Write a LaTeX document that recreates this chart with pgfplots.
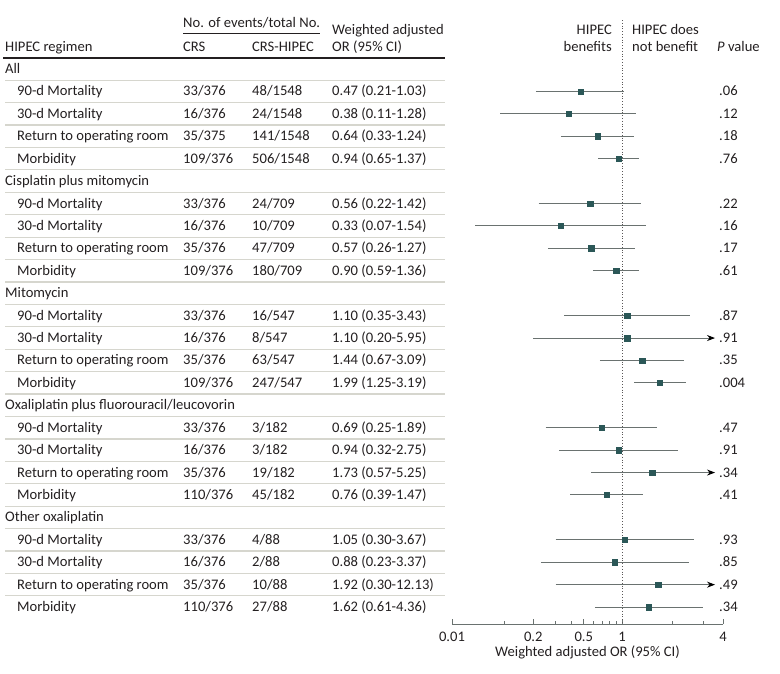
\documentclass[border=0pt]{standalone}
\usepackage{fontspec}
\setmainfont{Carlito}
\usepackage{pgfplots}
\pgfplotsset{compat=1.18}
\usetikzlibrary{arrows.meta}
\definecolor{txt}{HTML}{231F20}
\definecolor{sep}{HTML}{D6D6CE}
\definecolor{mk}{HTML}{2B5757}
\definecolor{cil}{HTML}{6A7270}
\newcommand\fs{\fontsize{14.6pt}{17pt}\selectfont}
% group header row: index, label
\newcommand\grp[2]{\node[anchor=base west] at (5,{73.5+22.42*#1}) {#2};}
% sub row: index, label, CRS, CRS-HIPEC, OR, P
\newcommand\sub[6]{%
  \node[anchor=base west] at (17,{73.5+22.42*#1}) {#2};
  \node[anchor=base west] at (183,{73.5+22.42*#1}) {#3};
  \node[anchor=base west] at (252,{73.5+22.42*#1}) {#4};
  \node[anchor=base west] at (332,{73.5+22.42*#1}) {#5};
  \node[anchor=base west] at (719,{73.5+22.42*#1}) {#6};}
\newcommand\ci[3]{\addplot[cil, line width=1pt, forget plot] coordinates {(#2,-#1) (#3,-#1)};}
\newcommand\cia[3]{\addplot[cil, line width=1pt, forget plot, -{Stealth[length=8pt,width=6pt,black]}] coordinates {(#2,-#1) (#3,-#1)};}
\begin{document}
\begin{tikzpicture}[every node/.style={inner sep=0pt, text=txt, font=\fs}]
\begin{scope}[x=1pt,y=-1pt]
\path (0,0) rectangle (780,674);
\foreach \i in {0,...,23} {\draw[sep, line width=1.2pt] (5,{69+22.42*(\i+0.5)}) -- (445,{69+22.42*(\i+0.5)});}
\draw[txt, line width=1.6pt] (3,58) -- (445,58);
\draw[txt, line width=0.9pt] (183,33) -- (320,33);
% headers
\node[anchor=base west] at (183,27.5) {No. of events/total No.};
\node[anchor=base west] at (5,51.5) {HIPEC regimen};
\node[anchor=base west] at (183,51.5) {CRS};
\node[anchor=base west] at (252,51.5) {CRS-HIPEC};
\node[anchor=base west] at (332,34.5) {Weighted adjusted};
\node[anchor=base west] at (332,51.5) {OR (95\% CI)};
\node[anchor=base east] at (612,34.5) {HIPEC};
\node[anchor=base east] at (612,51.5) {benefits};
\node[anchor=base west] at (632,34.5) {HIPEC does};
\node[anchor=base west] at (632,51.5) {not benefit};
\node[anchor=base west] at (717,51.5) {\textit{P} value};
% rows
\grp{0}{All}
\sub{1}{90-d Mortality}{33/376}{48/1548}{0.47 (0.21-1.03)}{.06}
\sub{2}{30-d Mortality}{16/376}{24/1548}{0.38 (0.11-1.28)}{.12}
\sub{3}{Return to operating room}{35/375}{141/1548}{0.64 (0.33-1.24)}{.18}
\sub{4}{Morbidity}{109/376}{506/1548}{0.94 (0.65-1.37)}{.76}
\grp{5}{Cisplatin plus mitomycin}
\sub{6}{90-d Mortality}{33/376}{24/709}{0.56 (0.22-1.42)}{.22}
\sub{7}{30-d Mortality}{16/376}{10/709}{0.33 (0.07-1.54)}{.16}
\sub{8}{Return to operating room}{35/376}{47/709}{0.57 (0.26-1.27)}{.17}
\sub{9}{Morbidity}{109/376}{180/709}{0.90 (0.59-1.36)}{.61}
\grp{10}{Mitomycin}
\sub{11}{90-d Mortality}{33/376}{16/547}{1.10 (0.35-3.43)}{.87}
\sub{12}{30-d Mortality}{16/376}{8/547}{1.10 (0.20-5.95)}{.91}
\sub{13}{Return to operating room}{35/376}{63/547}{1.44 (0.67-3.09)}{.35}
\sub{14}{Morbidity}{109/376}{247/547}{1.99 (1.25-3.19)}{.004}
\grp{15}{Oxaliplatin plus fluorouracil/leucovorin}
\sub{16}{90-d Mortality}{33/376}{3/182}{0.69 (0.25-1.89)}{.47}
\sub{17}{30-d Mortality}{16/376}{3/182}{0.94 (0.32-2.75)}{.91}
\sub{18}{Return to operating room}{35/376}{19/182}{1.73 (0.57-5.25)}{.34}
\sub{19}{Morbidity}{110/376}{45/182}{0.76 (0.39-1.47)}{.41}
\grp{20}{Other oxaliplatin}
\sub{21}{90-d Mortality}{33/376}{4/88}{1.05 (0.30-3.67)}{.93}
\sub{22}{30-d Mortality}{16/376}{2/88}{0.88 (0.23-3.37)}{.85}
\sub{23}{Return to operating room}{35/376}{10/88}{1.92 (0.30-12.13)}{.49}
\sub{24}{Morbidity}{110/376}{27/88}{1.62 (0.61-4.36)}{.34}
\end{scope}
\begin{axis}[at={(452pt,-624pt)}, anchor=south west, scale only axis,
  width=271pt, height=604pt,
  xmode=log, xmin=0.0458, xmax=6.24, ymin=-24.755, ymax=2.186,
  axis x line*=bottom, axis y line=none, clip=false,
  x axis line style={cil, line width=0.8pt, -},
  xtick={0.0458,0.2,0.5,1,6.24}, xticklabels={0.01,0.2,0.5,1,4},
  minor xtick={0.118,0.3,0.4,0.6,0.7,0.8,0.9,2.47,4.34},
  tick align=inside, major tick length=5pt, minor tick length=3pt,
  every tick/.style={cil, line width=0.8pt},
  xticklabel style={font=\fs, text=txt, inner sep=0pt, yshift=-8pt},
  /pgf/number format/assume math mode=true,
  ytick=\empty]
\draw[dotted, line width=0.8pt, txt!75] (axis cs:1,2.186) -- (axis cs:1,-24.755);
\ci{1}{0.21}{1.03}
\ci{2}{0.11}{1.28}
\ci{3}{0.33}{1.24}
\ci{4}{0.65}{1.37}
\ci{6}{0.22}{1.42}
\ci{7}{0.07}{1.54}
\ci{8}{0.26}{1.27}
\ci{9}{0.59}{1.36}
\ci{11}{0.35}{3.43}
\cia{12}{0.20}{5.4}% upper 5.95, drawn as arrow
\ci{13}{0.67}{3.09}
\ci{14}{1.25}{3.19}
\ci{16}{0.25}{1.89}
\ci{17}{0.32}{2.75}
\cia{18}{0.57}{5.4}% upper 5.25, drawn as arrow
\ci{19}{0.39}{1.47}
\ci{21}{0.30}{3.67}
\ci{22}{0.23}{3.37}
\cia{23}{0.30}{5.4}% upper 12.13, drawn as arrow
\ci{24}{0.61}{4.36}
\addplot[only marks, mark=square*, mark size=2.7pt, mk] coordinates {
(0.47,-1) (0.38,-2) (0.64,-3) (0.94,-4)
(0.56,-6) (0.33,-7) (0.57,-8) (0.90,-9)
(1.10,-11) (1.10,-12) (1.44,-13) (1.99,-14)
(0.69,-16) (0.94,-17) (1.73,-18) (0.76,-19)
(1.05,-21) (0.88,-22) (1.92,-23) (1.62,-24)};
\end{axis}
\node at (587.5pt,-652pt) {Weighted adjusted OR (95\% CI)};
\end{tikzpicture}
\end{document}
